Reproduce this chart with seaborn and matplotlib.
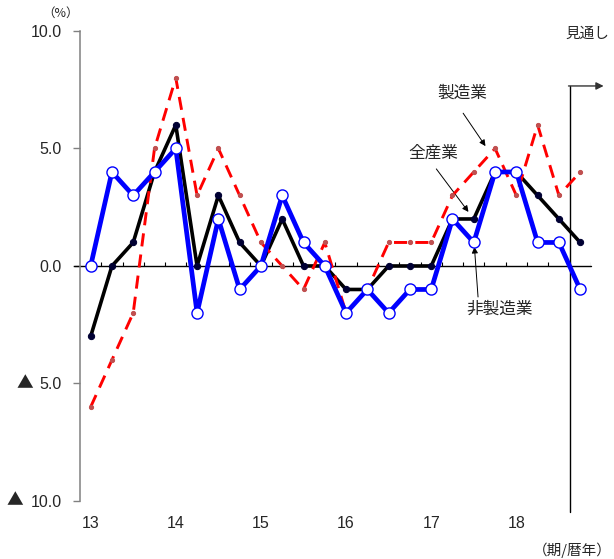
import numpy as np
import pandas as pd
import matplotlib
matplotlib.use("Agg")
from matplotlib import pyplot as plt
from matplotlib.transforms import blended_transform_factory
import seaborn as sns

# quarterly DI change, 2013Q1 - 2018Q4
quarters = np.arange(24)
all_industries = [-3, 0, 1, 4, 6, 0, 3, 1, 0, 2, 0, 0, -1, -1, 0, 0, 0, 2, 2, 4, 4, 3, 2, 1]  # 全産業
manufacturing = [-6, -4, -2, 5, 8, 3, 5, 3, 1, 0, -1, 1, -2, -1, 1, 1, 1, 3, 4, 5, 3, 6, 3, 4]  # 製造業
non_manufacturing = [0, 4, 3, 4, 5, -2, 2, -1, 0, 3, 1, 0, -2, -1, -2, -1, -1, 2, 1, 4, 4, 1, 1, -1]  # 非製造業
year_labels = ["13", "14", "15", "16", "17", "18"]
y_ticks = [-10, -5, 0, 5, 10]
y_labels = ["10.0", "5.0", "0.0", "5.0", "10.0"]  # negatives get a ▲ in front

df = pd.DataFrame({"q": quarters, "all": all_industries,
                   "mfg": manufacturing, "nonmfg": non_manufacturing})

sns.set_style("white")
plt.rcParams['font.family'] = ['Liberation Sans', 'Noto Sans CJK JP', 'DejaVu Sans']

fig = plt.figure(figsize=(6.14, 5.59), dpi=100)
ax = fig.add_axes([0.1303, 0.1038, 0.832, 0.8408])

sns.lineplot(data=df, x="q", y="all", ax=ax, color="black", lw=2.6,
             marker="o", markersize=4.5, markerfacecolor="#000033",
             markeredgecolor="#000033", zorder=3)
sns.lineplot(data=df, x="q", y="mfg", ax=ax, color="#ff0000", lw=2.1,
             linestyle=(0, (4.5, 2.8)), marker="o", markersize=3,
             markerfacecolor="#c05050", markeredgecolor="#c05050", zorder=4)
sns.lineplot(data=df, x="q", y="nonmfg", ax=ax, color="#0000ff", lw=3.4,
             marker="o", markersize=8, markerfacecolor="white",
             markeredgecolor="#0000ff", markeredgewidth=1.0, zorder=5)

ax.set_xlim(-0.5, 23.5)
ax.set_ylim(-10, 10)
ax.set_xlabel("")
ax.set_ylabel("")

# zero line with quarter ticks
ax.plot([-0.78, 23.5], [0, 0], color="black", lw=1.0, clip_on=False, zorder=2)
ax.vlines(np.arange(0.5, 24, 1), 0, 0.18, color="black", lw=0.8, zorder=2)

for s in ["top", "right", "bottom"]:
    ax.spines[s].set_visible(False)
ax.spines["left"].set_color("#808080")
ax.spines["left"].set_linewidth(1.1)

ax.set_yticks(y_ticks)
ax.set_yticklabels(y_labels, fontsize=11.5)
ax.tick_params(axis="y", length=5, width=1.0, color="#808080", pad=8, left=True)
ax.set_xticks(np.arange(0, 24, 4))
ax.set_xticklabels(year_labels, fontsize=11.5)
ax.tick_params(axis="x", length=0, pad=11)

# ▲ marks for negative tick labels
tr = blended_transform_factory(ax.transAxes, ax.transData)
ax.text(-0.1086, -5, "▲", fontsize=12, ha="center", va="center", transform=tr,
        family=['Noto Sans CJK JP'], clip_on=False)
ax.text(-0.128, -10, "▲", fontsize=12, ha="center", va="center", transform=tr,
        family=['Noto Sans CJK JP'], clip_on=False)

# forecast marker
ax.plot([22.5, 22.5], [-10.47, 7.66], color="black", lw=1.0, clip_on=False, zorder=1)
ax.annotate("", xy=(24.1, 7.66), xytext=(22.45, 7.66), annotation_clip=False,
            arrowprops=dict(arrowstyle="-|>", color="#333333", lw=1.0,
                            mutation_scale=11, shrinkA=0, shrinkB=0))
ax.text(23.33, 9.87, "見通し", fontsize=10.5, ha="center", va="center", clip_on=False)

# series labels
ax.text(17.46, 7.36, "製造業", fontsize=12, ha="center", va="center")
ax.annotate("", xy=(18.55, 5.1), xytext=(17.5, 6.5),
            arrowprops=dict(arrowstyle="-|>", color="black", lw=0.7,
                            mutation_scale=9, shrinkA=0, shrinkB=0))
ax.text(16.1, 4.8, "全産業", fontsize=12, ha="center", va="center")
ax.annotate("", xy=(17.75, 2.3), xytext=(16.24, 4.13),
            arrowprops=dict(arrowstyle="-|>", color="black", lw=0.7,
                            mutation_scale=9, shrinkA=0, shrinkB=0))
ax.text(19.2, -1.83, "非製造業", fontsize=12, ha="center", va="center")
ax.annotate("", xy=(18.03, 0.81), xytext=(18.2, -1.32),
            arrowprops=dict(arrowstyle="-|>", color="black", lw=0.7,
                            mutation_scale=9, shrinkA=0, shrinkB=0))

ax.text(-1.41, 10.77, "（%）", fontsize=9, ha="center", va="center", clip_on=False,
        family=['Noto Sans CJK JP'])
ax.text(22.63, -12.09, "（期/暦年）", fontsize=10.5, ha="center", va="center", clip_on=False,
        family=['Noto Sans CJK JP'])

fig.savefig("out.png", dpi=100)
